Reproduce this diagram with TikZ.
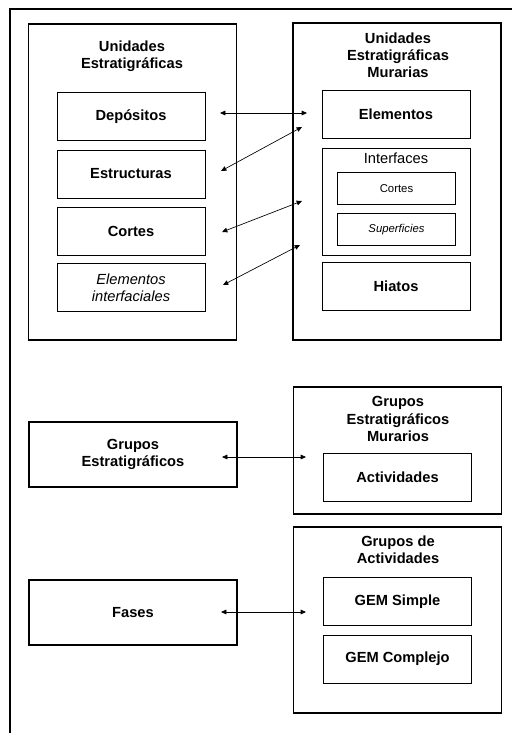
\documentclass[tikz,border=0pt]{standalone}
\usepackage{fontspec}
\setmainfont{Liberation Sans}
\usetikzlibrary{arrows.meta}

\tikzset{
  frame/.style={line width=1.1pt},
  bigbox/.style={draw, line width=1pt, minimum width=156pt, inner sep=0pt},
  unitbox/.style={draw, line width=0.7pt, minimum width=111pt, minimum height=36pt,
    align=center, font=\bfseries\fontsize{11}{12.8}\selectfont},
  subbox/.style={draw, line width=0.6pt, minimum width=89pt, minimum height=24pt,
    font=\fontsize{8.5}{10}\selectfont},
  boxtitle/.style={align=center, font=\bfseries\fontsize{11}{12.8}\selectfont},
  link/.style={{Triangle[length=4pt,width=3.5pt]}-{Triangle[length=4pt,width=3.5pt]}, line width=0.5pt},
}

\begin{document}
\begin{tikzpicture}[x=0.75pt, y=-0.75pt]
\useasboundingbox (0,0) rectangle (512,733);
\draw[frame] (512,9) -- (10,9) -- (10,733);

% Unidades Estratigraficas
\node[bigbox, minimum height=237pt] (ue) at (132.5,182) {};
\node[boxtitle] (uet) at (132,56.5) {Unidades\\Estratigráficas};
\node[unitbox] (dep) at (131,116.5) {Depósitos};
\node[unitbox] (est) at (131,174) {Estructuras};
\node[unitbox] (cor) at (131,231) {Cortes};
\node[unitbox, font=\itshape\fontsize{11}{12.8}\selectfont] (eli) at (131,287.5) {Elementos\\interfaciales};

% Unidades Estratigraficas Murarias
\node[bigbox, minimum height=237.75pt] (uem) at (397,181.5) {};
\node[boxtitle] (uemt) at (398,55.5) {Unidades\\Estratigráficas\\Murarias};
\node[unitbox] (ele) at (396,114) {Elementos};
\node[unitbox, minimum height=80.25pt] (int) at (396,201.5) {};
\node[font=\fontsize{11}{12.8}\selectfont] (intt) at (396,158) {Interfaces};
\node[subbox] (cor2) at (396.5,188.5) {Cortes};
\node[subbox, font=\itshape\fontsize{8.5}{10}\selectfont] (sup) at (396.5,229.5) {Superficies};
\node[unitbox] (hia) at (396,286.5) {Hiatos};

\coordinate (l1) at (220,113); \coordinate (r1) at (307,113);
\coordinate (l2) at (221,171); \coordinate (r2) at (302,127);
\coordinate (l3) at (222,232); \coordinate (r3) at (302,201);
\coordinate (l4) at (223,285); \coordinate (r4) at (300,245);
\draw[link] (l1) -- (r1);
\draw[link] (l2) -- (r2);
\draw[link] (l3) -- (r3);
\draw[link] (l4) -- (r4);

% Grupos
\node[unitbox, line width=1pt, minimum width=156pt, minimum height=48.75pt] (ge) at (133,454.5) {Grupos\\Estratigráficos};
\node[bigbox, minimum height=95.25pt] (gem) at (397.5,450.5) {};
\node[boxtitle] (gemt) at (398,419) {Grupos\\Estratigráficos\\Murarios};
\node[unitbox] (act) at (397.5,477) {Actividades};
\coordinate (l5) at (222,457); \coordinate (r5) at (306,457);
\draw[link] (l5) -- (r5);

% Fases
\node[unitbox, line width=1pt, minimum width=156pt, minimum height=48.75pt] (fas) at (133,612.5) {Fases};
\node[bigbox, minimum height=139.5pt] (ga) at (397.5,620) {};
\node[boxtitle] (gat) at (398,550) {Grupos de\\Actividades};
\node[unitbox] (gs) at (397.5,601.5) {GEM Simple};
\node[unitbox] (gc) at (397.5,659) {GEM Complejo};
\coordinate (l6) at (221,612); \coordinate (r6) at (306,612);
\draw[link] (l6) -- (r6);
\end{tikzpicture}
\end{document}
